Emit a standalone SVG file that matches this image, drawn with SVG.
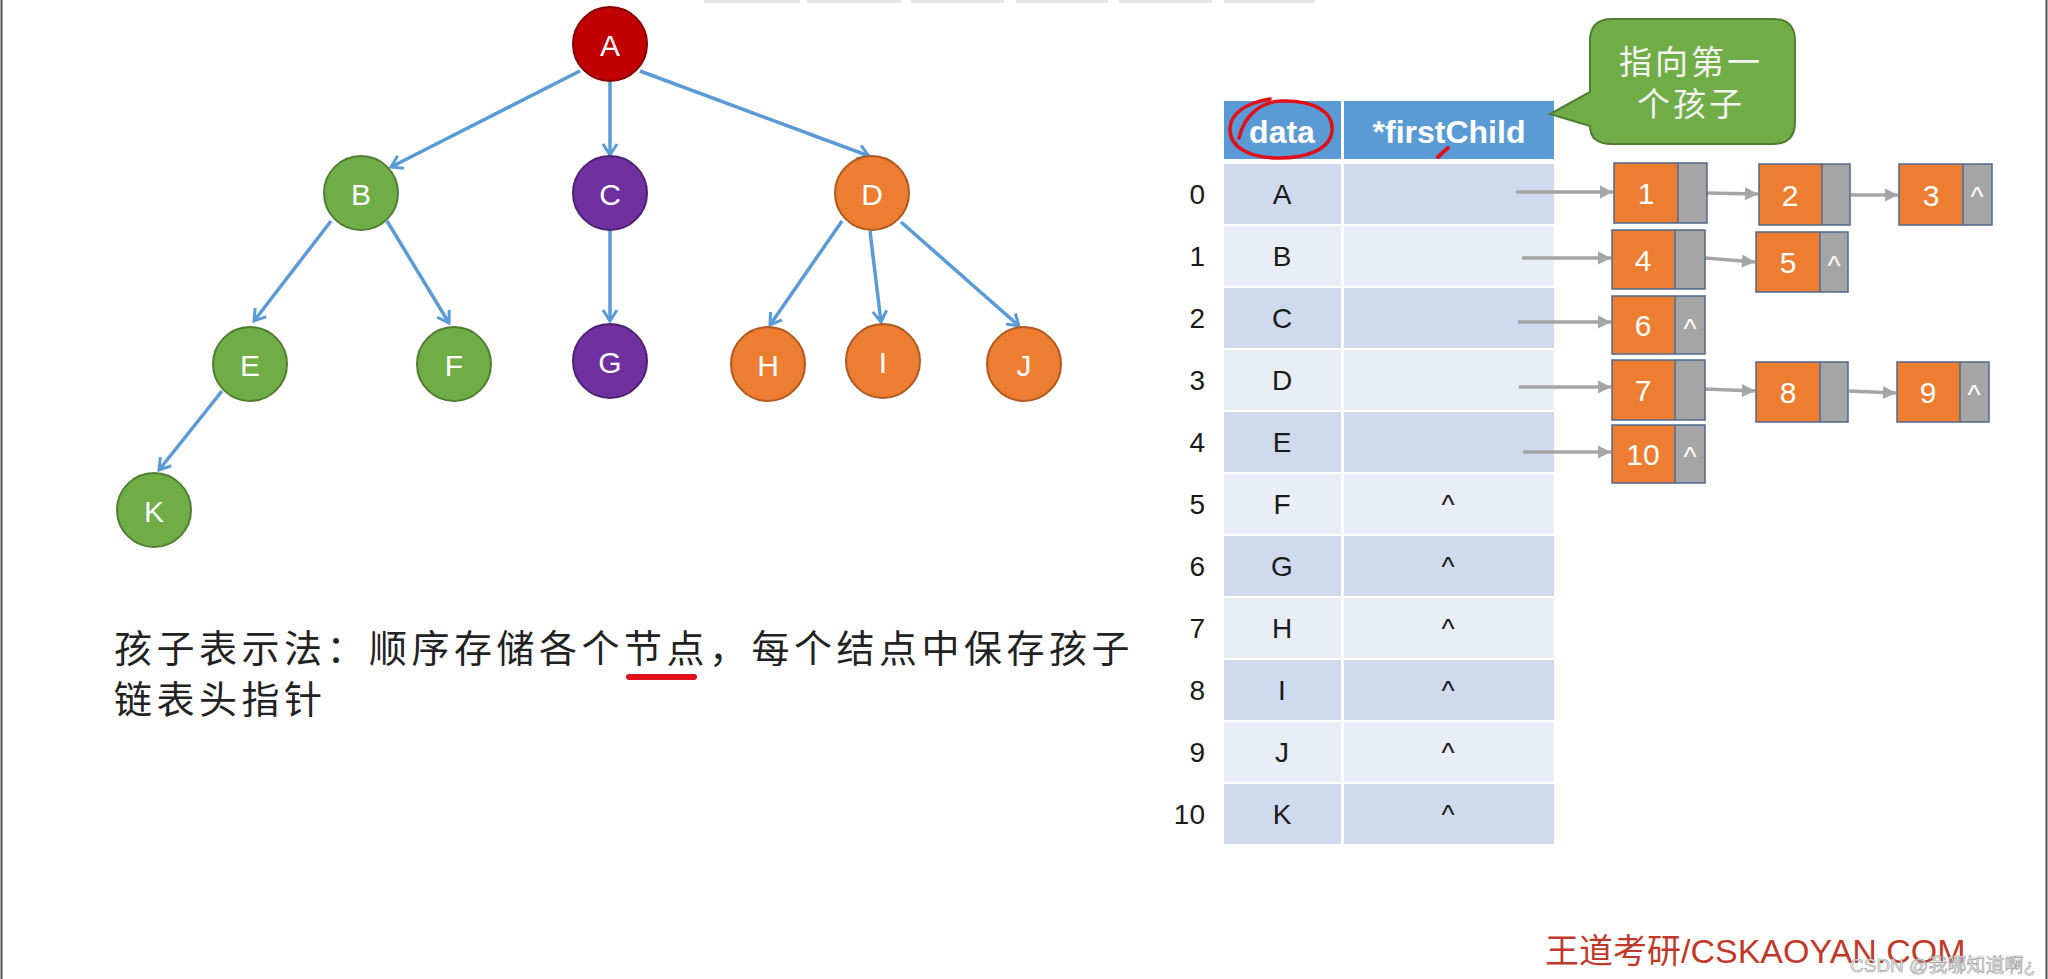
<svg xmlns="http://www.w3.org/2000/svg" width="2048" height="979" viewBox="0 0 2048 979">
<style>
.node text{font-family:"Liberation Sans",Arial,sans-serif;font-size:30px;fill:#fff;text-anchor:middle}
.edge{stroke:#5B9BD5;stroke-width:3.5;fill:none;marker-end:url(#openArrow)}
.garrow{stroke:#A5A5A5;stroke-width:3.5;fill:none;marker-end:url(#grayArrow)}
.green{fill:#70AD47;stroke:#507E32;stroke-width:2}
.purple{fill:#7030A0;stroke:#4E2272;stroke-width:2}
.orange{fill:#ED7D31;stroke:#AE5A21;stroke-width:2}
.red{fill:#C00000;stroke:#860000;stroke-width:2}
.hdr{fill:#5B9BD5}
.even{fill:#D0DAEE}
.odd{fill:#E9EDF5}
.hdrtxt{font-family:"Liberation Sans",Arial,sans-serif;font-size:32px;font-weight:bold;fill:#fff;text-anchor:middle}
.cell{font-family:"Liberation Sans",Arial,sans-serif;font-size:28px;fill:#1a1a1a;text-anchor:middle}
.idx{font-family:"Liberation Sans",Arial,sans-serif;font-size:28px;fill:#1a1a1a;text-anchor:end}
.lo{fill:#ED7D31}
.lg{fill:#A5A5A5}
.lb{fill:none;stroke:#4F6A8F;stroke-width:1.5}
.ltxt{font-family:"Liberation Sans",Arial,sans-serif;font-size:30px;fill:#fff;text-anchor:middle}
.lnull{font-family:"Liberation Sans",Arial,sans-serif;font-size:28px;fill:#fff;text-anchor:middle}
.cjk{font-family:"Noto Sans CJK SC",sans-serif}
.ink{fill:none;stroke:#E0101A;stroke-linecap:round;stroke-linejoin:round}
</style>
<defs>
<marker id="openArrow" markerUnits="userSpaceOnUse" markerWidth="16" markerHeight="16" refX="12" refY="7" orient="auto" overflow="visible">
<path d="M1,0 L12,7 L1,14" fill="none" stroke="#5B9BD5" stroke-width="3"/>
</marker>
<marker id="grayArrow" markerUnits="userSpaceOnUse" markerWidth="14" markerHeight="14" refX="13" refY="6.5" orient="auto" overflow="visible">
<path d="M0,0 L13,6.5 L0,13 Z" fill="#A5A5A5"/>
</marker>
</defs>
<rect x="0" y="0" width="2048" height="979" fill="#fff"/>
<g id="frame">
<line x1="1.5" y1="0" x2="1.5" y2="979" stroke="#555" stroke-width="2"/>
<line x1="2046.5" y1="0" x2="2046.5" y2="979" stroke="#555" stroke-width="2"/>
<g fill="#e4e4e4">
<rect x="704" y="0" width="96" height="3"/><rect x="807" y="0" width="94" height="3"/><rect x="911" y="0" width="93" height="3"/><rect x="1016" y="0" width="92" height="3"/><rect x="1119" y="0" width="93" height="3"/><rect x="1224" y="0" width="91" height="3"/>
</g>
</g>
<g id="tree-edges">
<line class="edge" x1="580" y1="71" x2="391" y2="167"/>
<line class="edge" x1="610" y1="82" x2="610" y2="155"/>
<line class="edge" x1="640" y1="71" x2="869" y2="156"/>
<line class="edge" x1="331" y1="221" x2="254" y2="321"/>
<line class="edge" x1="387" y1="221" x2="449" y2="323"/>
<line class="edge" x1="610" y1="230" x2="610" y2="321"/>
<line class="edge" x1="842" y1="221" x2="770" y2="325"/>
<line class="edge" x1="870" y1="231" x2="881" y2="322"/>
<line class="edge" x1="901" y1="222" x2="1019" y2="326"/>
<line class="edge" x1="222" y1="391" x2="159" y2="470"/>
</g>
<g id="node-A" class="node"><circle class="red" cx="610" cy="44" r="37"/><text x="610" y="56">A</text></g>
<g id="node-B" class="node"><circle class="green" cx="361" cy="193" r="37"/><text x="361" y="205">B</text></g>
<g id="node-C" class="node"><circle class="purple" cx="610" cy="193" r="37"/><text x="610" y="205">C</text></g>
<g id="node-D" class="node"><circle class="orange" cx="872" cy="193" r="37"/><text x="872" y="205">D</text></g>
<g id="node-E" class="node"><circle class="green" cx="250" cy="364" r="37"/><text x="250" y="376">E</text></g>
<g id="node-F" class="node"><circle class="green" cx="454" cy="364" r="37"/><text x="454" y="376">F</text></g>
<g id="node-G" class="node"><circle class="purple" cx="610" cy="361" r="37"/><text x="610" y="373">G</text></g>
<g id="node-H" class="node"><circle class="orange" cx="768" cy="364" r="37"/><text x="768" y="376">H</text></g>
<g id="node-I" class="node"><circle class="orange" cx="883" cy="361" r="37"/><text x="883" y="373">I</text></g>
<g id="node-J" class="node"><circle class="orange" cx="1024" cy="364" r="37"/><text x="1024" y="376">J</text></g>
<g id="node-K" class="node"><circle class="green" cx="154" cy="510" r="37"/><text x="154" y="522">K</text></g>

<g id="description">
<text class="cjk" x="114" y="662" font-size="38" letter-spacing="4.5" fill="#222">孩子表示法：顺序存储各个节点，每个结点中保存孩子</text>
<text class="cjk" x="114" y="713" font-size="38" letter-spacing="4.5" fill="#222">链表头指针</text>
<line class="ink" x1="629" y1="677" x2="694" y2="677" stroke-width="6"/>
</g>

<g id="table">
<rect class="hdr" x="1224" y="101" width="117" height="58"/>
<rect class="hdr" x="1344" y="101" width="210" height="58"/>
<text class="hdrtxt" x="1282" y="143">data</text>
<text class="hdrtxt" x="1449" y="143">*firstChild</text>
<g id="rows">
<rect class="even" x="1224" y="164" width="117" height="60"/><rect class="even" x="1344" y="164" width="210" height="60"/>
<rect class="odd" x="1224" y="226" width="117" height="60"/><rect class="odd" x="1344" y="226" width="210" height="60"/>
<rect class="even" x="1224" y="288" width="117" height="60"/><rect class="even" x="1344" y="288" width="210" height="60"/>
<rect class="odd" x="1224" y="350" width="117" height="60"/><rect class="odd" x="1344" y="350" width="210" height="60"/>
<rect class="even" x="1224" y="412" width="117" height="60"/><rect class="even" x="1344" y="412" width="210" height="60"/>
<rect class="odd" x="1224" y="474" width="117" height="60"/><rect class="odd" x="1344" y="474" width="210" height="60"/>
<rect class="even" x="1224" y="536" width="117" height="60"/><rect class="even" x="1344" y="536" width="210" height="60"/>
<rect class="odd" x="1224" y="598" width="117" height="60"/><rect class="odd" x="1344" y="598" width="210" height="60"/>
<rect class="even" x="1224" y="660" width="117" height="60"/><rect class="even" x="1344" y="660" width="210" height="60"/>
<rect class="odd" x="1224" y="722" width="117" height="60"/><rect class="odd" x="1344" y="722" width="210" height="60"/>
<rect class="even" x="1224" y="784" width="117" height="60"/><rect class="even" x="1344" y="784" width="210" height="60"/>
</g>
<g id="row-labels">
<text class="idx" x="1205" y="204">0</text><text class="cell" x="1282" y="204">A</text>
<text class="idx" x="1205" y="266">1</text><text class="cell" x="1282" y="266">B</text>
<text class="idx" x="1205" y="328">2</text><text class="cell" x="1282" y="328">C</text>
<text class="idx" x="1205" y="390">3</text><text class="cell" x="1282" y="390">D</text>
<text class="idx" x="1205" y="452">4</text><text class="cell" x="1282" y="452">E</text>
<text class="idx" x="1205" y="514">5</text><text class="cell" x="1282" y="514">F</text><text class="cell" x="1448" y="514">^</text>
<text class="idx" x="1205" y="576">6</text><text class="cell" x="1282" y="576">G</text><text class="cell" x="1448" y="576">^</text>
<text class="idx" x="1205" y="638">7</text><text class="cell" x="1282" y="638">H</text><text class="cell" x="1448" y="638">^</text>
<text class="idx" x="1205" y="700">8</text><text class="cell" x="1282" y="700">I</text><text class="cell" x="1448" y="700">^</text>
<text class="idx" x="1205" y="762">9</text><text class="cell" x="1282" y="762">J</text><text class="cell" x="1448" y="762">^</text>
<text class="idx" x="1205" y="824">10</text><text class="cell" x="1282" y="824">K</text><text class="cell" x="1448" y="824">^</text>
</g>
</g>

<g id="annotations">
<path class="ink" stroke-width="3.5" d="M1239,138 C1244,116 1260,102 1281,101 C1314,100 1334,112 1332,131 C1330,150 1306,158 1279,158 C1251,158 1229,148 1230,128 C1231,113 1246,103 1270,99"/>
<path class="ink" stroke-width="4" d="M1448,148 Q1443,152 1438,157"/>
</g>

<g id="callout">
<path d="M1612,19 H1773 Q1795,19 1795,41 V122 Q1795,144 1773,144 H1612 Q1590,144 1590,126 L1550,114 L1590,92 V41 Q1590,19 1612,19 Z" fill="#70AD47" stroke="#507E32" stroke-width="2"/>
<text class="cjk" font-size="33" letter-spacing="3" fill="#F4F4F4" text-anchor="middle"><tspan x="1691" y="74">指向第一</tspan><tspan x="1691" y="116">个孩子</tspan></text>
</g>

<g id="list-connectors">
<line class="garrow" x1="1516" y1="192" x2="1613" y2="192"/>
<line class="garrow" x1="1522" y1="258" x2="1611" y2="258"/>
<line class="garrow" x1="1518" y1="322" x2="1611" y2="322"/>
<line class="garrow" x1="1519" y1="387" x2="1611" y2="387"/>
<line class="garrow" x1="1523" y1="452" x2="1611" y2="452"/>
<line class="garrow" x1="1707" y1="193" x2="1758" y2="194"/>
<line class="garrow" x1="1851" y1="195" x2="1898" y2="195"/>
<line class="garrow" x1="1705" y1="258" x2="1755" y2="262"/>
<line class="garrow" x1="1705" y1="389" x2="1755" y2="391"/>
<line class="garrow" x1="1849" y1="391" x2="1896" y2="393"/>
</g>

<g id="list-1"><rect class="lo" x="1614" y="163" width="64" height="60"/><rect class="lg" x="1678" y="163" width="29" height="60"/><rect class="lb" x="1614" y="163" width="93" height="60"/><line class="lb" x1="1678" y1="163" x2="1678" y2="223"/><text class="ltxt" x="1646" y="204">1</text></g>
<g id="list-2"><rect class="lo" x="1759" y="164" width="63" height="61"/><rect class="lg" x="1822" y="164" width="28" height="61"/><rect class="lb" x="1759" y="164" width="91" height="61"/><line class="lb" x1="1822" y1="164" x2="1822" y2="225"/><text class="ltxt" x="1790" y="206">2</text></g>
<g id="list-3"><rect class="lo" x="1899" y="164" width="64" height="61"/><rect class="lg" x="1963" y="164" width="29" height="61"/><rect class="lb" x="1899" y="164" width="93" height="61"/><line class="lb" x1="1963" y1="164" x2="1963" y2="225"/><text class="ltxt" x="1931" y="206">3</text><text class="lnull" x="1977" y="206">^</text></g>
<g id="list-4"><rect class="lo" x="1612" y="230" width="63" height="59"/><rect class="lg" x="1675" y="230" width="30" height="59"/><rect class="lb" x="1612" y="230" width="93" height="59"/><line class="lb" x1="1675" y1="230" x2="1675" y2="289"/><text class="ltxt" x="1643" y="271">4</text></g>
<g id="list-5"><rect class="lo" x="1756" y="232" width="64" height="60"/><rect class="lg" x="1820" y="232" width="28" height="60"/><rect class="lb" x="1756" y="232" width="92" height="60"/><line class="lb" x1="1820" y1="232" x2="1820" y2="292"/><text class="ltxt" x="1788" y="273">5</text><text class="lnull" x="1834" y="275">^</text></g>
<g id="list-6"><rect class="lo" x="1612" y="296" width="63" height="58"/><rect class="lg" x="1675" y="296" width="30" height="58"/><rect class="lb" x="1612" y="296" width="93" height="58"/><line class="lb" x1="1675" y1="296" x2="1675" y2="354"/><text class="ltxt" x="1643" y="336">6</text><text class="lnull" x="1690" y="338">^</text></g>
<g id="list-7"><rect class="lo" x="1612" y="360" width="63" height="60"/><rect class="lg" x="1675" y="360" width="30" height="60"/><rect class="lb" x="1612" y="360" width="93" height="60"/><line class="lb" x1="1675" y1="360" x2="1675" y2="420"/><text class="ltxt" x="1643" y="401">7</text></g>
<g id="list-8"><rect class="lo" x="1756" y="362" width="64" height="60"/><rect class="lg" x="1820" y="362" width="28" height="60"/><rect class="lb" x="1756" y="362" width="92" height="60"/><line class="lb" x1="1820" y1="362" x2="1820" y2="422"/><text class="ltxt" x="1788" y="403">8</text></g>
<g id="list-9"><rect class="lo" x="1897" y="362" width="63" height="60"/><rect class="lg" x="1960" y="362" width="29" height="60"/><rect class="lb" x="1897" y="362" width="92" height="60"/><line class="lb" x1="1960" y1="362" x2="1960" y2="422"/><text class="ltxt" x="1928" y="403">9</text><text class="lnull" x="1974" y="404">^</text></g>
<g id="list-10"><rect class="lo" x="1612" y="425" width="63" height="58"/><rect class="lg" x="1675" y="425" width="30" height="58"/><rect class="lb" x="1612" y="425" width="93" height="58"/><line class="lb" x1="1675" y1="425" x2="1675" y2="483"/><text class="ltxt" x="1643" y="465" font-size="27">10</text><text class="lnull" x="1690" y="466">^</text></g>

<g id="watermarks">
<text x="1545" y="963" font-family="Liberation Sans, Noto Sans CJK SC, sans-serif" font-size="34" fill="#C0392B">王道考研/CSKAOYAN.COM</text>
<text x="1850" y="972" font-family="Liberation Sans, Noto Sans CJK SC, sans-serif" font-size="19" fill="#f2f2f2" stroke="#999" stroke-width="0.6">CSDN @我哪知道啊¿</text>
</g>
</svg>
